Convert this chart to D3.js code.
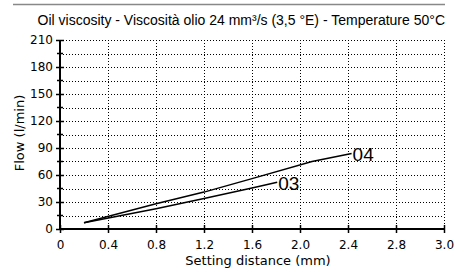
<!DOCTYPE html>
<html>
<head>
<meta charset="utf-8">
<script src="https://cdn.jsdelivr.net/npm/d3@7"></script>
<style>
  body { margin: 0; background: #fff; }
  text { fill: #000; }
</style>
</head>
<body>
<div id="vis"></div>
<script>
// tick positions and the labels printed under them (last one is printed "3.0")
const xTickValues = [0, 0.4, 0.8, 1.2, 1.6, 2.0, 2.4, 2.8, 3.2];
const xTickLabels = ['0', '0.4', '0.8', '1.2', '1.6', '2.0', '2.4', '2.8', '3.0'];
const yTickValues = [0, 30, 60, 90, 120, 150, 180, 210];
const yMinorValues = [15, 45, 75, 105, 135, 165, 195];

// curves
const series04x = [0.2, 0.8, 1.2, 1.6, 2.1, 2.43];
const series04y = [7, 28, 41, 56, 75, 84];
const series03x = [0.2, 0.8, 1.2, 1.6, 1.81];
const series03y = [7, 22.5, 34, 45.5, 52];
const seriesNames = ['04', '03'];

const width = 455;
const height = 269;
const sans = '"DejaVu Sans", Verdana, sans-serif';
const arial = '"Liberation Sans", Arial, sans-serif';

const svg = d3.select('#vis')
  .append('svg')
  .attr('width', width)
  .attr('height', height);

const x = d3.scaleLinear().domain([0, 3.2]).range([60, 444]);
const y = d3.scaleLinear().domain([0, 210]).range([229, 40]);

// grey rule above the title
svg.append('line')
  .attr('x1', 13).attr('x2', 445)
  .attr('y1', 4.5).attr('y2', 4.5)
  .attr('stroke', '#888').attr('stroke-width', 1.5);

svg.append('text')
  .attr('x', 445).attr('y', 25)
  .attr('text-anchor', 'end')
  .style('font-family', arial)
  .style('font-size', '14px')
  .text('Oil viscosity - Viscosità olio 24 mm³/s (3,5 °E) - Temperature 50°C');

// dotted grid
const grid = svg.append('g')
  .attr('stroke', '#000')
  .attr('stroke-width', 1)
  .attr('stroke-dasharray', '1,2');

grid.selectAll('.hgrid')
  .data(yTickValues.concat(yMinorValues).filter((d) => d > 0))
  .enter().append('line')
  .attr('x1', x(0)).attr('x2', x(3.2))
  .attr('y1', (d) => Math.round(y(d)) + 0.5)
  .attr('y2', (d) => Math.round(y(d)) + 0.5);

grid.selectAll('.vgrid')
  .data(xTickValues.filter((d) => d > 0))
  .enter().append('line')
  .attr('x1', (d) => Math.round(x(d)) + 0.5)
  .attr('x2', (d) => Math.round(x(d)) + 0.5)
  .attr('y1', y(210)).attr('y2', y(0));

// X axis
const xAxis = svg.append('g')
  .attr('transform', 'translate(0,' + y(0) + ')')
  .call(d3.axisBottom(x)
    .tickValues(xTickValues)
    .tickSize(0)
    .tickPadding(11)
    .tickFormat((d, i) => xTickLabels[i]));
xAxis.select('.domain').attr('stroke-width', 2).attr('d', 'M' + x(0) + ',0H' + x(3.2));
xAxis.selectAll('text').style('font-size', '12px').style('font-family', sans);
xAxis.selectAll('.tick').append('line')
  .attr('y1', -4).attr('y2', 4)
  .attr('stroke', '#000').attr('stroke-width', 1.5);

// Y axis
const yAxis = svg.append('g')
  .attr('transform', 'translate(' + x(0) + ',0)')
  .call(d3.axisLeft(y)
    .tickValues(yTickValues)
    .tickSize(0)
    .tickPadding(7));
yAxis.select('.domain').attr('stroke-width', 2).attr('d', 'M0,' + y(0) + 'V' + y(210));
yAxis.selectAll('text').style('font-size', '12px').style('font-family', sans);
yAxis.selectAll('.tick').append('line')
  .attr('x1', -4).attr('x2', 4)
  .attr('stroke', '#000').attr('stroke-width', 1.5);
yAxis.selectAll('.minor')
  .data(yMinorValues)
  .enter().append('line')
  .attr('x1', -3).attr('x2', 3)
  .attr('y1', (d) => y(d)).attr('y2', (d) => y(d))
  .attr('stroke', '#000').attr('stroke-width', 1.5);

// axis titles
svg.append('text')
  .attr('x', 258).attr('y', 265)
  .attr('text-anchor', 'middle')
  .style('font-family', sans)
  .style('font-size', '13px')
  .text('Setting distance (mm)');

svg.append('text')
  .attr('transform', 'translate(24,133) rotate(-90)')
  .attr('text-anchor', 'middle')
  .style('font-family', sans)
  .style('font-size', '13px')
  .text('Flow (l/min)');

// curves
const line = d3.line()
  .x((d) => x(d[0]))
  .y((d) => y(d[1]));

const curves = [
  d3.zip(series04x, series04y),
  d3.zip(series03x, series03y),
];

svg.selectAll('.curve')
  .data(curves)
  .enter().append('path')
  .attr('d', line)
  .attr('fill', 'none')
  .attr('stroke', '#000')
  .attr('stroke-width', 1.5);

svg.selectAll('.curveLabel')
  .data(curves)
  .enter().append('text')
  .attr('x', (d) => x(d[d.length - 1][0]) + 1)
  .attr('y', (d) => y(d[d.length - 1][1]) + 8)
  .style('font-family', arial)
  .style('font-size', '19px')
  .text((d, i) => seriesNames[i]);
</script>
</body>
</html>
